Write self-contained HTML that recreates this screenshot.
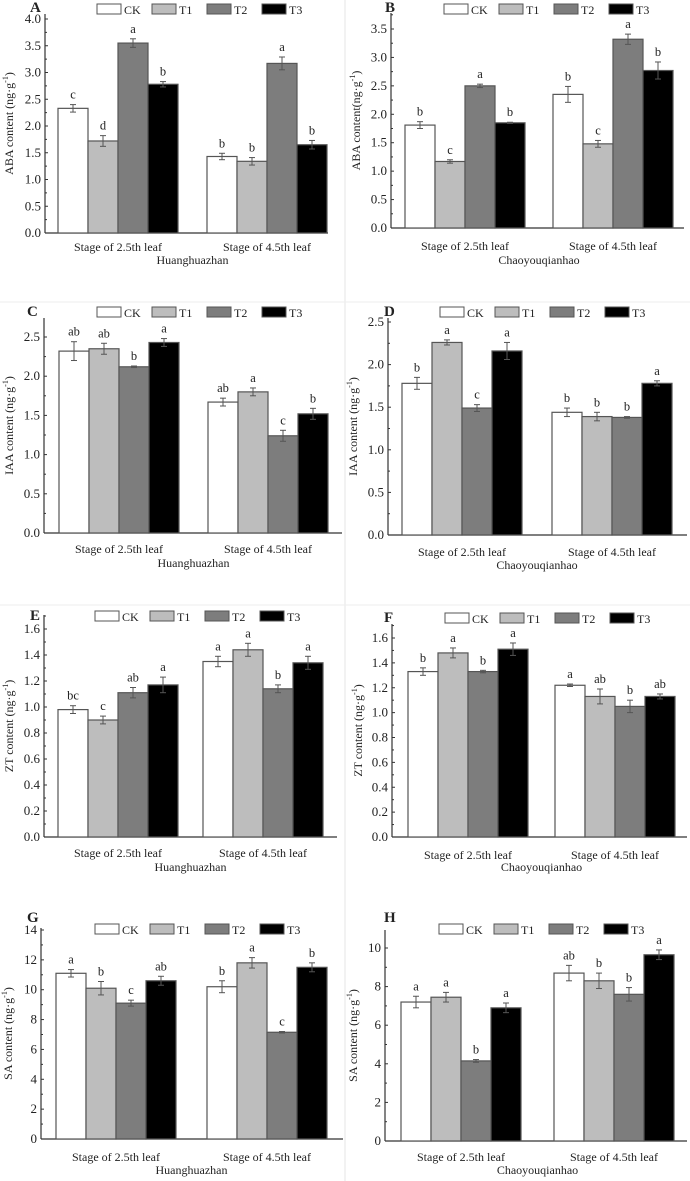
<!DOCTYPE html>
<html><head><meta charset="utf-8"><style>
body{margin:0;background:#fff}
svg{display:block;font-family:"Liberation Serif",serif}
</style></head><body>
<svg id="fig" width="690" height="1181" viewBox="0 0 690 1181"></svg>
<script>
const categories = ["Stage of 2.5th leaf","Stage of 4.5th leaf"];
const series = ["CK","T1","T2","T3"];
const aVals = [[2.33,1.72,3.55,2.78],[1.43,1.34,3.17,1.65]];
const aErr  = [[0.07,0.10,0.08,0.05],[0.06,0.07,0.12,0.08]];
const aLet  = [["c","d","a","b"],["b","b","a","b"]];
const bVals = [[1.81,1.17,2.50,1.85],[2.35,1.48,3.32,2.77]];
const bErr  = [[0.06,0.03,0.03,0.01],[0.14,0.06,0.09,0.15]];
const bLet  = [["b","c","a","b"],["b","c","a","b"]];
const cVals = [[2.32,2.35,2.12,2.43],[1.67,1.80,1.24,1.52]];
const cErr  = [[0.12,0.07,0.01,0.05],[0.05,0.05,0.07,0.07]];
const cLet  = [["ab","ab","b","a"],["ab","a","c","b"]];
const dVals = [[1.78,2.26,1.49,2.16],[1.44,1.39,1.38,1.78]];
const dErr  = [[0.07,0.03,0.04,0.10],[0.05,0.05,0.01,0.03]];
const dLet  = [["b","a","c","a"],["b","b","b","a"]];
const eVals = [[0.98,0.90,1.11,1.17],[1.35,1.44,1.14,1.34]];
const eErr  = [[0.03,0.03,0.04,0.06],[0.04,0.05,0.03,0.05]];
const eLet  = [["bc","c","ab","a"],["a","a","b","a"]];
const fVals = [[1.33,1.48,1.33,1.51],[1.22,1.13,1.05,1.13]];
const fErr  = [[0.03,0.04,0.01,0.05],[0.01,0.06,0.05,0.02]];
const fLet  = [["b","a","b","a"],["a","ab","b","ab"]];
const gVals = [[11.1,10.1,9.1,10.6],[10.2,11.8,7.15,11.5]];
const gErr  = [[0.25,0.45,0.2,0.3],[0.4,0.35,0.05,0.3]];
const gLet  = [["a","b","c","ab"],["b","a","c","b"]];
const hVals = [[7.2,7.45,4.15,6.9],[8.7,8.3,7.6,9.65]];
const hErr  = [[0.3,0.25,0.07,0.25],[0.4,0.4,0.35,0.25]];
const hLet  = [["a","a","b","a"],["ab","b","b","a"]];
const aTicks=["0.0","0.5","1.0","1.5","2.0","2.5","3.0","3.5","4.0"];
const bTicks=["0.0","0.5","1.0","1.5","2.0","2.5","3.0","3.5"];
const cTicks=["0.0","0.5","1.0","1.5","2.0","2.5"];
const eTicks=["0.0","0.2","0.4","0.6","0.8","1.0","1.2","1.4","1.6"];
const gTicks=["0","2","4","6","8","10","12","14"];
const hTicks=["0","2","4","6","8","10"];

const colors=["#ffffff","#bdbdbd","#7d7d7d","#000000"];
const NS="http://www.w3.org/2000/svg";
const svg=document.getElementById("fig");
function mk(tag,attrs,parent,txt){const e=document.createElementNS(NS,tag);for(const k in attrs)e.setAttribute(k,attrs[k]);if(txt!==undefined)e.textContent=txt;(parent||svg).appendChild(e);return e;}

const panels=[
 {id:"A",vals:aVals,err:aErr,let:aLet,ticks:aTicks,ax:45,right:328,y0:233,yTopV:4.0,yTopPx:19,axTop:14,barX:58,g2:207,legY:4,legX:97,lx:30,ly:12,cy:251,sy:264,site:"Huanghuazhan",yl:"ABA content (ng·g",ylx:13},
 {id:"B",vals:bVals,err:bErr,let:bLet,ticks:bTicks,ax:391,right:684,y0:228,yTopV:3.5,yTopPx:29,axTop:13,barX:405,g2:553,legY:4,legX:444,lx:385,ly:12,cy:250,sy:264,site:"Chaoyouqianhao",yl:"ABA content(ng·g",ylx:360},
 {id:"C",vals:cVals,err:cErr,let:cLet,ticks:cTicks,ax:44,right:342,y0:533,yTopV:2.5,yTopPx:337,axTop:318,barX:59,g2:208,legY:307,legX:97,lx:27,ly:316,cy:553,sy:567,site:"Huanghuazhan",yl:"IAA content (ng·g",ylx:13},
 {id:"D",vals:dVals,err:dErr,let:dLet,ticks:cTicks,ax:388,right:687,y0:535,yTopV:2.5,yTopPx:322,axTop:318,barX:402,g2:552,legY:307,legX:440,lx:384,ly:316,cy:556,sy:569,site:"Chaoyouqianhao",yl:"IAA content (ng·g",ylx:357},
 {id:"E",vals:eVals,err:eErr,let:eLet,ticks:eTicks,ax:44,right:337,y0:837,yTopV:1.6,yTopPx:629,axTop:615,barX:58,g2:203,legY:611,legX:95,lx:30,ly:620,cy:857,sy:871,site:"Huanghuazhan",yl:"ZT content (ng·g",ylx:13},
 {id:"F",vals:fVals,err:fErr,let:fLet,ticks:eTicks,ax:392,right:687,y0:837,yTopV:1.6,yTopPx:638,axTop:624,barX:408,g2:555,legY:613,legX:445,lx:384,ly:622,cy:859,sy:871,site:"Chaoyouqianhao",yl:"ZT content (ng·g",ylx:362},
 {id:"G",vals:gVals,err:gErr,let:gLet,ticks:gTicks,ax:41,right:343,y0:1139,yTopV:14,yTopPx:930,axTop:928,barX:56,g2:207,legY:924,legX:95,lx:27,ly:922,cy:1161,sy:1174,site:"Huanghuazhan",yl:"SA content (ng·g",ylx:12},
 {id:"H",vals:hVals,err:hErr,let:hLet,ticks:hTicks,ax:385,right:687,y0:1141,yTopV:10,yTopPx:948,axTop:930,barX:401,g2:554,legY:924,legX:439,lx:384,ly:922,cy:1161,sy:1174,site:"Chaoyouqianhao",yl:"SA content (ng·g",ylx:357}
];

mk("line",{x1:345,y1:0,x2:345,y2:1181,stroke:"#e6e6e6","stroke-width":1});
mk("line",{x1:0,y1:302,x2:690,y2:302,stroke:"#eeeeee","stroke-width":1});
mk("line",{x1:0,y1:605,x2:690,y2:605,stroke:"#eeeeee","stroke-width":1});

panels.forEach(p=>{
  const g=mk("g",{});
  
  
  const scale=(p.y0-p.yTopPx)/p.yTopV;
  const yS=v=>p.y0-v*scale;
  const maxV=parseFloat(p.ticks[p.ticks.length-1]);
  const step=maxV/(p.ticks.length-1);
  const pl=mk("text",{x:p.lx,y:p.ly,"font-size":15,"font-weight":"bold",fill:"#222"},g,p.id);
  
  
  const ya=mk("line",{x1:p.ax,y1:p.axTop,x2:p.ax,y2:p.y0,stroke:"#333","stroke-width":1.2},g);
  
  
  const xa=mk("line",{x1:p.ax,y1:p.y0,x2:p.right,y2:p.y0,stroke:"#333","stroke-width":1.2},g);
  
  
  p.ticks.forEach((t,i)=>{
    const v=i*step, y=yS(v);
    mk("line",{x1:p.ax,y1:y,x2:p.ax+3,y2:y,stroke:"#333"},g);
    const mv=v+step/2;
    if(i<p.ticks.length-1||yS(mv)>p.axTop) mk("line",{x1:p.ax,y1:yS(mv),x2:p.ax+2,y2:yS(mv),stroke:"#333"},g);
    const tl=mk("text",{x:p.ax-4,y:y+4,"font-size":13,"text-anchor":"end",fill:"#222"},g,t);
    
    
  });
  const cyT=(p.y0+p.axTop)/2;
  const yt=mk("text",{x:p.ylx,y:cyT,"font-size":12,"text-anchor":"middle",fill:"#222",transform:`rotate(-90 ${p.ylx} ${cyT})`},g);
  
  
  yt.textContent=p.yl;
  mk("tspan",{"font-size":8,dy:-5},yt,"-1");
  mk("tspan",{dy:5},yt,")");
  const bw=30;
  p.vals.forEach((grp,gi)=>{
    const gx=gi===0?p.barX:p.g2;
    grp.forEach((v,si)=>{
      const x=gx+si*bw, y=yS(v);
      const r=mk("rect",{x:x,y:y,width:bw,height:p.y0-y,fill:colors[si],stroke:"#555","stroke-width":1.2},g);
      
      
      const e=p.err[gi][si], cx=x+bw/2;
      const eu=yS(v+e), el=yS(v-e);
      mk("line",{x1:cx,y1:eu,x2:cx,y2:el,stroke:"#555"},g);
      mk("line",{x1:cx-3,y1:eu,x2:cx+3,y2:eu,stroke:"#555"},g);
      mk("line",{x1:cx-3,y1:el,x2:cx+3,y2:el,stroke:"#555"},g);
      const lt=mk("text",{x:cx,y:eu-6,"font-size":12.5,"text-anchor":"middle",fill:"#222"},g,p.let[gi][si]);
      
      
    });
    const cl=mk("text",{x:gx+2*bw,y:p.cy,"font-size":12,"text-anchor":"middle",fill:"#222"},g,categories[gi]);
    
    
  });
  const st=mk("text",{x:(p.barX+p.g2+4*bw)/2,y:p.sy,"font-size":12,"text-anchor":"middle",fill:"#222"},g,p.site);
  
  
  series.forEach((s,si)=>{
    const lx=p.legX+si*55;
    const lb=mk("rect",{x:lx,y:p.legY,width:24,height:10,fill:colors[si],stroke:"#555","stroke-width":1},g);
    
    
    const lt=mk("text",{x:lx+27,y:p.legY+10,"font-size":12,fill:"#222"},g,s);
    
    
  });
});
</script>
</body></html>
